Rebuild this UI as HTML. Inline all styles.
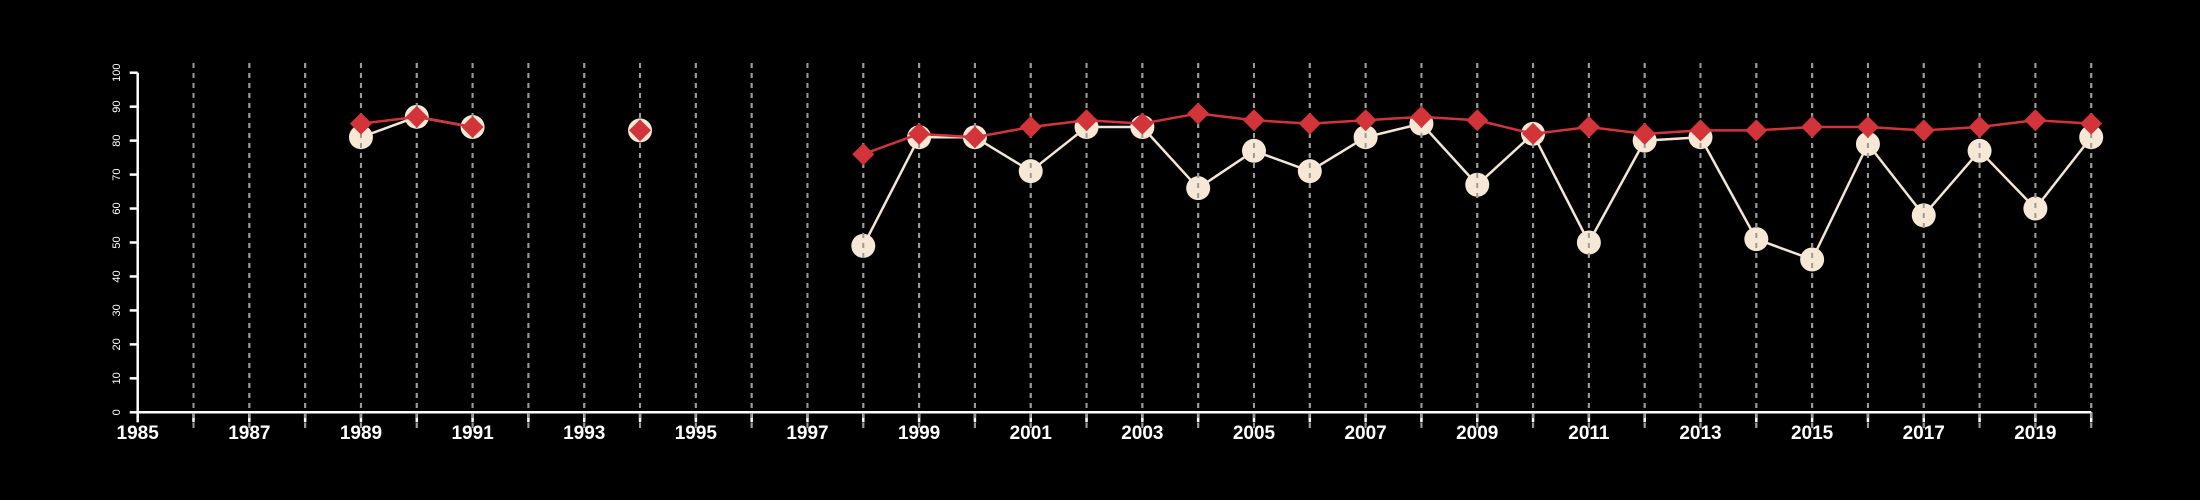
<!DOCTYPE html>
<html><head><meta charset="utf-8"><style>
html,body{margin:0;padding:0;background:#000;}
svg{display:block;font-family:"Liberation Sans",sans-serif;}
</style></head><body>
<svg id="chart" width="2200" height="500" viewBox="0 0 2200 500" xmlns="http://www.w3.org/2000/svg">
<rect width="2200" height="500" fill="#000"/>
<g id="grid"></g>
<g id="axes"></g>
<g id="series-a"></g>
<g id="grid2"></g>
<g id="series-b"></g>
</svg>
<script>
const years = [1989,1990,1991,1992,1993,1994,1995,1996,1997,1998,1999,2000,2001,2002,2003,2004,2005,2006,2007,2008,2009,2010,2011,2012,2013,2014,2015,2016,2017,2018,2019,2020];
const creamValues = [81,87,84,null,null,83,null,null,null,49,81,81,71,84,84,66,77,71,81,85,67,82,50,80,81,51,45,79,58,77,60,81];
const redValues = [85,87,84,null,null,83,null,null,null,76,82,81,84,86,85,88,86,85,86,87,86,82,84,82,83,83,84,84,83,84,86,85];
const yTicks = [0,10,20,30,40,50,60,70,80,90,100];
const xTickYears = [1985,1986,1987,1988,1989,1990,1991,1992,1993,1994,1995,1996,1997,1998,1999,2000,2001,2002,2003,2004,2005,2006,2007,2008,2009,2010,2011,2012,2013,2014,2015,2016,2017,2018,2019,2020];
const xLabelYears = [1985,1987,1989,1991,1993,1995,1997,1999,2001,2003,2005,2007,2009,2011,2013,2015,2017,2019];

const NS='http://www.w3.org/2000/svg';
const X0=137.7, X1=2091.2, Y0=412.3, Y1=72.7;
const xS = y => X0 + (y-1985)*(X1-X0)/35;
const yS = v => Y0 - v*(Y0-Y1)/100;
function mk(tag, attrs, parent){const e=document.createElementNS(NS,tag);for(const k in attrs)e.setAttribute(k,attrs[k]);parent.appendChild(e);return e;}
const grid=document.getElementById('grid'), grid2=document.getElementById('grid2'), axes=document.getElementById('axes');

xTickYears.forEach(y=>{
  if(y===1985) return;
  [grid,grid2].forEach(g=>{
    const l=mk('line',{x1:xS(y),x2:xS(y),y1:63,y2:428,stroke:'#9a9a9a','stroke-width':2,'stroke-dasharray':'5 5'},g);
    
    
  });
});
// axes
let ax=mk('line',{x1:X0,x2:X1,y1:Y0,y2:Y0,stroke:'#fff','stroke-width':2.5},axes);
 
ax=mk('line',{x1:X0,x2:X0,y1:Y0,y2:Y1,stroke:'#fff','stroke-width':2.5},axes);
 
xTickYears.forEach(y=>{
  const t=mk('line',{x1:xS(y),x2:xS(y),y1:Y0,y2:Y0+10,stroke:'#fff','stroke-width':2.5},axes);
   
});
xLabelYears.forEach(y=>{
  const t=mk('text',{x:xS(y),y:439,fill:'#fff','font-size':19,'font-weight':'bold','text-anchor':'middle'},axes);
  t.textContent=y;
   
});
yTicks.forEach(v=>{
  const t=mk('line',{x1:X0-8,x2:X0,y1:yS(v),y2:yS(v),stroke:'#fff','stroke-width':2.5},axes);
   
  const tx=mk('text',{x:0,y:0,fill:'#fff','font-size':11,'text-anchor':'middle',transform:`translate(120,${yS(v)}) rotate(-90)`},axes);
  tx.textContent=v;
   
});

function drawLine(vals, g, color, w){
  for(let i=0;i<years.length-1;i++){
    if(vals[i]==null||vals[i+1]==null) continue;
    const l=mk('line',{x1:xS(years[i]),y1:yS(vals[i]),x2:xS(years[i+1]),y2:yS(vals[i+1]),stroke:color,'stroke-width':w},g);
    
    
  }
}
const sa=document.getElementById('series-a'), sb=document.getElementById('series-b');
drawLine(creamValues, sa, '#f3e6d2', 2.5);
creamValues.forEach((v,i)=>{
  if(v==null) return;
  const c=mk('circle',{cx:xS(years[i]),cy:yS(v),r:12,fill:'#f6e8d4'},sa);
  
  
});
drawLine(redValues, sb, '#d2343a', 2.5);
redValues.forEach((v,i)=>{
  if(v==null) return;
  const x=xS(years[i]), y=yS(v), r=11;
  const p=mk('polygon',{points:`${x},${y-r} ${x+r},${y} ${x},${y+r} ${x-r},${y}`,fill:'#d2343a'},sb);
  
  
});
</script>
</body></html>
